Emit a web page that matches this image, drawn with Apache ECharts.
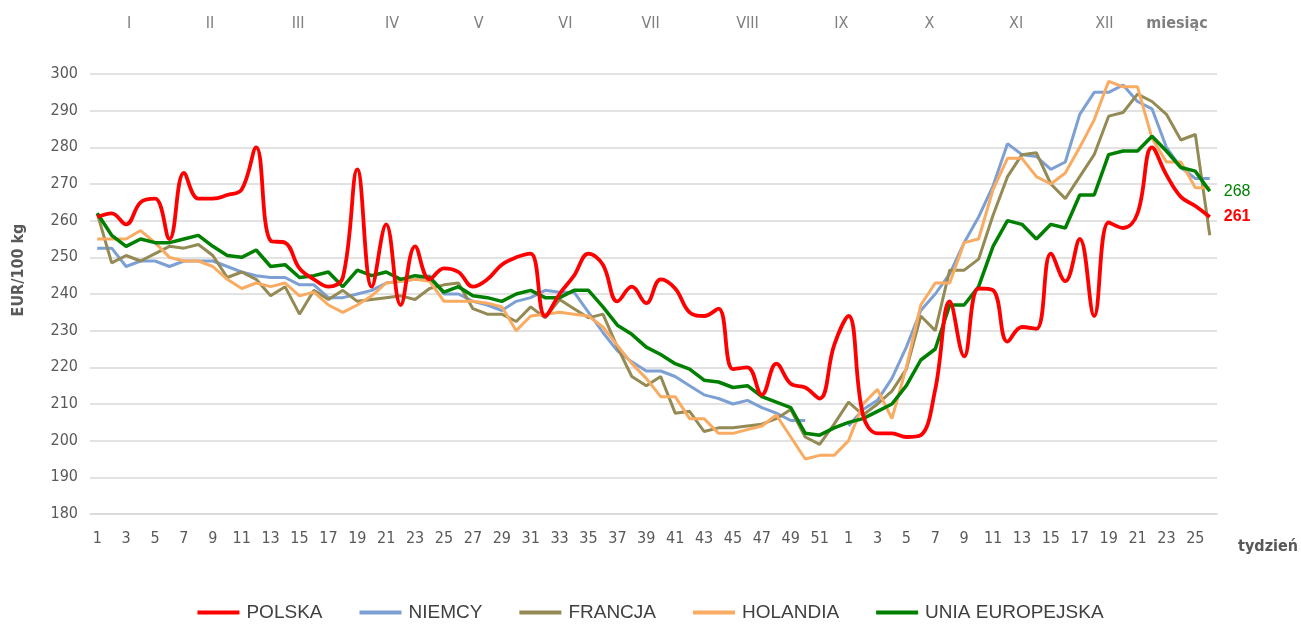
<!DOCTYPE html>
<html>
<head>
<meta charset="utf-8">
<script src="https://cdn.jsdelivr.net/npm/echarts@6/dist/echarts.min.js"></script>
<style>
  html, body { margin: 0; padding: 0; background: #fff; }
  #main { width: 1301px; height: 627px; }
</style>
</head>
<body>
<div id="main"></div>
<script>
// tygodnie: 1..52 roku poprzedniego, potem 1..26
const weeks = []
for (let w = 1; w <= 52; w++) weeks.push(String(w))
for (let w = 1; w <= 26; w++) weeks.push(String(w))

const polska = [261, 262, 259, 265, 266, 255, 273, 266, 266, 267, 268.5, 280, 254.5, 254, 247, 244, 242, 244.5, 274, 242,
  259, 237, 253, 244, 247, 246, 242, 244, 248, 250, 251, 234, 240, 245, 251, 248, 238, 242, 237.5, 244,
  241.5, 235, 234, 236, 219.5, 220, 212.5, 221, 215.5, 214.5, 211.5, 226, 234, 207, 202, 202, 201, 201.5, 214, 238,
  223, 241.5, 241, 227, 231, 230.5, 251, 243.5, 255, 234, 259.5, 258, 262, 280, 272.5, 266.5, 264, 261]

const niemcy = [252.5, 252.5, 247.5, 249, 249, 247.5, 249, 249, 249, 247.5, 246, 245, 244.5, 244.5, 242.5, 242.5, 239, 239, 240, 241,
  243, 243.5, 244, 245, 240, 240, 238, 237, 235.5, 238, 239, 241, 240.5, 240.5, 235, 229.5, 224.5, 221.5, 219, 219,
  217.5, 215, 212.5, 211.5, 210, 211, 209, 207.5, 205.5, 205.5, null, null, 204, 208.5, 211, 217, 225.5, 235.5, 240, 245.5,
  254, 261, 269.5, 281, 278, 277.5, 274, 276, 289, 295, 295, 297, 292.5, 290.5, 280, 274.5, 271.5, 271.5]

const francja = [262, 248.5, 250.5, 249, 251, 253, 252.5, 253.5, 250.5, 244.5, 246, 244, 239.5, 242, 234.5, 241, 238.5, 241, 238, 238.5,
  239, 239.5, 238.5, 241.5, 242.5, 243, 236, 234.5, 234.5, 232.5, 236.5, 233.5, 238.5, 236, 233.5, 234.5, 225.5, 217.5, 215, 217.5,
  207.5, 208, 202.5, 203.5, 203.5, 204, 204.5, 206, 208.5, 201, 199, 204.5, 210.5, 207, 210, 213.5, 219.5, 234, 230, 246.5,
  246.5, 249.5, 261.5, 272, 278, 278.5, 270, 266, 272, 278, 288.5, 289.5, 294.5, 292.5, 289, 282, 283.5, 256]

const holandia = [255, 255, 255, 257.3, 254, 250, 249, 249, 247.5, 244, 241.5, 243, 242, 243, 239.5, 240.5, 237, 235, 237, 239.5,
  243, 243.5, 244, 243.5, 238, 238, 238, 237.5, 236.5, 230, 234, 234.5, 235, 234.5, 234, 231, 226, 221, 217, 212,
  212, 206, 206, 202, 202, 203, 204, 207, 201, 195, 196, 196, 200, 210, 214, 206, 220, 237, 243, 243,
  254, 255, 268.5, 277, 277, 272, 270, 273, 280, 287.5, 298, 296.5, 296.5, 282.5, 276, 276, 269, 269]

const ue = [262, 256, 253, 255, 254, 254, 255, 256, 253, 250.5, 250, 252, 247.5, 248, 244.5, 245, 246, 242, 246.5, 245,
  246, 244, 245, 244.5, 240.5, 242, 239.5, 239, 238, 240, 241, 239, 239, 241, 241, 236.5, 231.5, 229, 225.5, 223.5,
  221, 219.5, 216.5, 216, 214.5, 215, 212, 210.5, 209, 202, 201.5, 203.5, 205, 206, 208, 210, 215, 222, 225, 237,
  237, 242, 253, 260, 259, 255, 259, 258, 267, 267, 278, 279, 279, 283, 279, 274.5, 273.5, 268]

// miesiące nad wykresem (środek miesiąca w jednostkach tygodni)
const months = ['I', 'II', 'III', 'IV', 'V', 'VI', 'VII', 'VIII', 'IX', 'X', 'XI', 'XII']
const monthAt = [2.2, 7.8, 13.9, 20.4, 26.4, 32.4, 38.3, 45, 51.5, 57.6, 63.6, 69.7]

const narrow = "'Liberation Sans Narrow', 'DejaVu Sans Condensed', sans-serif"
const labelColor = '#595959'

const chart = echarts.init(document.getElementById('main'))

const line = (name, data, color, width, extra) => Object.assign({
  name,
  type: 'line',
  data,
  symbol: 'none',
  connectNulls: false,
  lineStyle: { color, width },
  itemStyle: { color },
  emphasis: { disabled: true }
}, extra || {})

const option = {
  animation: false,
  grid: { left: 90, right: 84, top: 74, bottom: 113 },
  legend: {
    bottom: 0,
    left: 'center',
    icon: 'rect',
    itemWidth: 42,
    itemHeight: 4,
    itemGap: 37,
    textStyle: { fontSize: 19, color: '#404040', fontFamily: 'Liberation Sans, Arial, sans-serif', padding: [0, 0, 0, 2] },
    data: ['POLSKA', 'NIEMCY', 'FRANCJA', 'HOLANDIA', 'UNIA EUROPEJSKA']
  },
  xAxis: {
    type: 'category',
    data: weeks,
    boundaryGap: true,
    axisTick: { show: false },
    axisLine: { lineStyle: { color: '#d9d9d9', width: 1.5 } },
    axisLabel: { interval: 1, color: labelColor, fontSize: 16, fontFamily: narrow, margin: 17 }
  },
  yAxis: {
    type: 'value',
    min: 180,
    max: 300,
    interval: 10,
    axisLine: { show: false },
    axisTick: { show: false },
    splitLine: { lineStyle: { color: '#d9d9d9', width: 1.5 } },
    axisLabel: { color: labelColor, fontSize: 16, fontFamily: narrow, margin: 12 }
  },
  series: [
    line('POLSKA', polska, '#ff0000', 3.8, {
      smooth: 0.4,
      z: 6,
      endLabel: { show: true, formatter: p => Math.round(p.value), color: '#ff0000', fontWeight: 'bold', fontSize: 16, distance: 14 }
    }),
    line('NIEMCY', niemcy, '#7da0d4', 3),
    line('FRANCJA', francja, '#948a54', 3),
    line('HOLANDIA', holandia, '#f9ab62', 3),
    line('UNIA EUROPEJSKA', ue, '#008000', 3.5, {
      z: 5,
      endLabel: { show: true, formatter: p => Math.round(p.value), color: '#008000', fontSize: 16, distance: 14 }
    })
  ]
}

chart.setOption(option)

// napisy miesięcy i nazwy osi
const x0 = chart.convertToPixel({ xAxisIndex: 0 }, 0)
const step = chart.convertToPixel({ xAxisIndex: 0 }, 1) - x0
const graphics = months.map((m, i) => ({
  type: 'text',
  x: x0 + monthAt[i] * step,
  y: 24,
  style: { text: m, fill: '#7f7f7f', font: '16px ' + narrow, align: 'center', verticalAlign: 'middle' }
}))
graphics.push({
  type: 'text', x: 1177, y: 24,
  style: { text: 'miesiąc', fill: '#7f7f7f', font: 'bold 16px ' + narrow, align: 'center', verticalAlign: 'middle' }
})
graphics.push({
  type: 'text', x: 1268, y: 547,
  style: { text: 'tydzień', fill: '#595959', font: 'bold 16px ' + narrow, align: 'center', verticalAlign: 'middle' }
})
graphics.push({
  type: 'text', x: 19, y: 270, rotation: Math.PI / 2,
  style: { text: 'EUR/100 kg', fill: '#595959', font: 'bold 16px ' + narrow, align: 'center', verticalAlign: 'middle' }
})
chart.setOption({ graphic: graphics })
</script>
</body>
</html>
